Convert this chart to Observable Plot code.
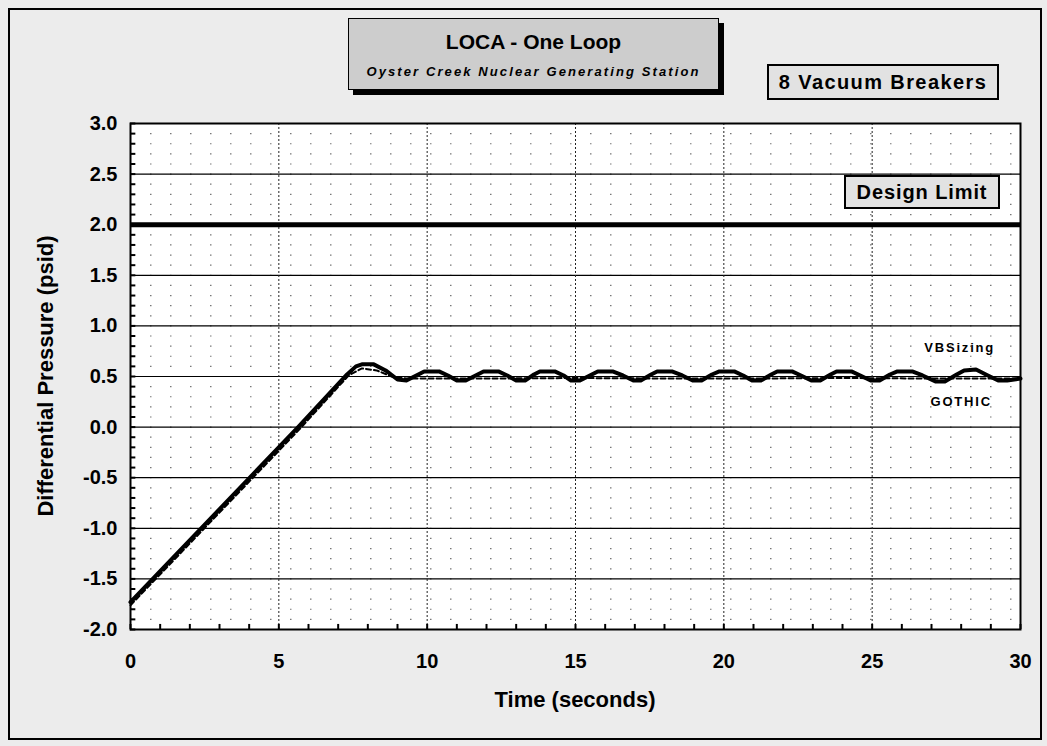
<!DOCTYPE html>
<html>
<head>
<meta charset="utf-8">
<script src="https://cdn.jsdelivr.net/npm/d3@7"></script>
<script src="https://cdn.jsdelivr.net/npm/@observablehq/plot@0.6"></script>
<style>
  html, body { margin: 0; padding: 0; background: #ffffff; }
  #page { position: relative; width: 1047px; height: 746px; background: #ececec; overflow: hidden;
          font-family: "Liberation Sans", Arial, Helvetica, sans-serif; color: #000; }
  #outer { position: absolute; left: 8px; top: 8px; width: 1030px; height: 728px; border: 2px solid #000; }
  #chart { position: absolute; left: 0; top: 0; }
  #chart svg g[aria-label="text"] text { letter-spacing: 1.8px; }
  .box { position: absolute; border: 2px solid #000; box-sizing: border-box; font-weight: bold; text-align: center; white-space: nowrap; }
  #titlebox { left: 348px; top: 18px; width: 371px; height: 72px; background: #cdcdcd; border-width: 1px;
              box-shadow: 5px 5px 0 #000; }
  #title { position: absolute; left: 0; right: 0; top: 11px; font-size: 21px; }
  #subtitle { position: absolute; left: 0; right: 0; top: 45px; font-size: 13px; font-style: italic; letter-spacing: 2.1px; }
  #vbbox { left: 767px; top: 64px; width: 232px; height: 36px; background: #e2e2e2; font-size: 20px; line-height: 32px; letter-spacing: 1.4px; }
  #dlbox { left: 844px; top: 175px; width: 156px; height: 34px; background: #e2e2e2; font-size: 20px; line-height: 30px; letter-spacing: 0.9px; }
  #ylabel { position: absolute; left: 46px; top: 376px; transform: translate(-50%, -50%) rotate(-90deg);
            white-space: nowrap; font-weight: bold; font-size: 22px; }
  #xlabel { position: absolute; left: 575px; top: 700px; transform: translate(-50%, -50%);
            white-space: nowrap; font-weight: bold; font-size: 22px; }
</style>
</head>
<body>
<div id="page">
  <div id="outer"></div>
  <div id="chart"></div>
  <div id="titlebox" class="box">
    <div id="title">LOCA - One Loop</div>
    <div id="subtitle">Oyster Creek Nuclear Generating Station</div>
  </div>
  <div id="vbbox" class="box">8 Vacuum Breakers</div>
  <div id="dlbox" class="box">Design Limit</div>
  <div id="ylabel">Differential Pressure (psid)</div>
  <div id="xlabel">Time (seconds)</div>
</div>
<script>
// ---- Data ----
const vbTime = [0, 5.65, 7.3, 7.6, 7.8, 8.2, 8.6, 9.0,
  9.3, 9.7, 9.9, 10.4, 10.7,
  11.0, 11.3, 11.7, 11.9, 12.4, 12.7,
  13.0, 13.3, 13.6, 13.8, 14.3, 14.6,
  14.85, 15.15, 15.55, 15.75, 16.25, 16.6,
  16.95, 17.2, 17.55, 17.75, 18.25, 18.6,
  18.95, 19.25, 19.6, 19.85, 20.35, 20.65,
  20.95, 21.25, 21.6, 21.8, 22.3, 22.6,
  22.95, 23.25, 23.6, 23.8, 24.3, 24.6,
  24.95, 25.25, 25.6, 25.85, 26.35, 26.7,
  27.15, 27.45, 27.85, 28.1, 28.5, 28.9,
  29.25, 29.55, 30.0];
const vbDp = [-1.73, 0.0, 0.52, 0.60, 0.62, 0.62, 0.56, 0.47,
  0.46, 0.52, 0.55, 0.55, 0.51,
  0.46, 0.46, 0.52, 0.55, 0.55, 0.51,
  0.46, 0.46, 0.52, 0.55, 0.55, 0.51,
  0.46, 0.46, 0.52, 0.55, 0.55, 0.51,
  0.46, 0.46, 0.52, 0.55, 0.55, 0.51,
  0.46, 0.46, 0.52, 0.55, 0.55, 0.51,
  0.46, 0.46, 0.52, 0.55, 0.55, 0.51,
  0.46, 0.46, 0.52, 0.55, 0.55, 0.51,
  0.46, 0.46, 0.52, 0.55, 0.55, 0.51,
  0.45, 0.45, 0.52, 0.56, 0.57, 0.51,
  0.46, 0.46, 0.48];
const gothicTime = [0, 5.7, 7.35, 7.8, 8.3, 8.8, 9.3, 12, 15, 18, 21, 24, 27, 30];
const gothicDp   = [-1.76, -0.02, 0.51, 0.58, 0.56, 0.50, 0.48, 0.48, 0.485, 0.48, 0.48, 0.485, 0.48, 0.48];
const designLimit = [2.0];
const xTicks = [0, 5, 10, 15, 20, 25, 30];
const yTicks = [-2.0, -1.5, -1.0, -0.5, 0.0, 0.5, 1.0, 1.5, 2.0, 2.5, 3.0];
const xMinor = d3.range(0, 31, 1);
const yMinor = d3.range(-20, 31, 1).map(d => d / 10);
const seriesLabels = [
  {name: "VBSizing", t: 27.95, v: 0.78},
  {name: "GOTHIC",   t: 28.0,  v: 0.25}
];

const vb = vbTime.map((t, i) => ({t, v: vbDp[i]}));
const gothic = gothicTime.map((t, i) => ({t, v: gothicDp[i]}));

const chart = Plot.plot({
  width: 1047,
  height: 746,
  marginLeft: 130,
  marginRight: 27,
  marginTop: 123,
  marginBottom: 117,
  x: {domain: [0, 30]},
  y: {domain: [-2, 3]},
  style: {background: "transparent", fontFamily: "'Liberation Sans', Arial, sans-serif", color: "#000", overflow: "visible"},
  marks: [
    Plot.frame({fill: "white"}),
    Plot.ruleY(yMinor, {stroke: "#777", strokeWidth: 1.2, strokeDasharray: "1.5,18.5"}),
    Plot.ruleY(yTicks, {stroke: "#000", strokeWidth: 1.2}),
    Plot.ruleX(xTicks, {stroke: "#222", strokeWidth: 1, strokeDasharray: "2,2"}),
    Plot.ruleY(yMinor, {x1: 0, x2: 0.18, stroke: "#000", strokeWidth: 2}),
    Plot.ruleX(xMinor, {y1: -2, y2: -1.95, stroke: "#000", strokeWidth: 2}),
    Plot.ruleY(designLimit, {stroke: "#000", strokeWidth: 5}),
    Plot.line(gothic, {x: "t", y: "v", stroke: "#000", strokeWidth: 2, strokeDasharray: "5,3"}),
    Plot.line(vb, {x: "t", y: "v", stroke: "#000", strokeWidth: 4, curve: "linear"}),
    Plot.frame({stroke: "#000", strokeWidth: 2}),
    Plot.text(seriesLabels, {x: "t", y: "v", text: "name", fontSize: 13, fontWeight: "bold", fill: "#000"}),
    Plot.axisX(xTicks, {tickSize: 0, tickPadding: 24, label: null, fontSize: 20, fontWeight: "bold"}),
    Plot.axisY(yTicks, {tickSize: 0, tickPadding: 13, label: null, fontSize: 20, fontWeight: "bold", tickFormat: d => d.toFixed(1)})
  ]
});
document.getElementById("chart").appendChild(chart);
</script>
</body>
</html>
